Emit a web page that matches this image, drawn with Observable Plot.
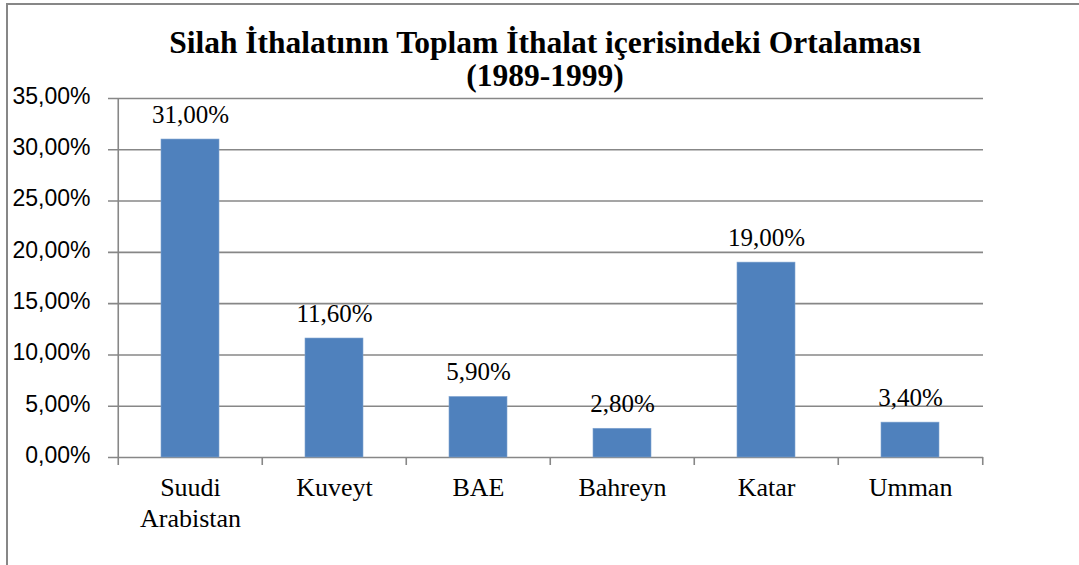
<!DOCTYPE html>
<html>
<head>
<meta charset="utf-8">
<script src="https://cdn.jsdelivr.net/npm/d3@7"></script>
<script src="https://cdn.jsdelivr.net/npm/@observablehq/plot@0.6"></script>
<style>
  html, body { margin: 0; padding: 0; background: #fff; overflow: hidden; }
  #wrap { position: relative; width: 1079px; height: 565px; }
  #border { position: absolute; left: 6px; top: 3px; width: 2000px; height: 2000px;
            border-left: 2px solid #878787; border-top: 2px solid #878787; box-sizing: border-box; }
  #chart { position: absolute; left: 0; top: 0; }
</style>
</head>
<body>
<div id="wrap"><div id="border"></div><div id="chart"></div></div>
<script>
// ---- data ----
const titleLines = ["Silah İthalatının Toplam İthalat içerisindeki Ortalaması\n(1989-1999)"];
const categories = ["Suudi Arabistan", "Kuveyt", "BAE", "Bahreyn", "Katar", "Umman"];
const xLabels = ["Suudi\nArabistan", "Kuveyt", "BAE", "Bahreyn", "Katar", "Umman"];
const values = [0.31, 0.116, 0.059, 0.028, 0.19, 0.034];
const yTicks = [0, 0.05, 0.10, 0.15, 0.20, 0.25, 0.30, 0.35];

const rows = categories.map((c, i) => ({category: c, value: values[i], label: xLabels[i]}));

const trLocale = d3.formatLocale({decimal: ",", thousands: ".", grouping: [3], currency: ["", ""], percent: "%"});
const pct = trLocale.format(".2%");

const W = 1079, H = 565;
const mL = 116, mR = 96, mT = 98, mB = 108;
const step = (W - mL - mR) / categories.length;
const gridColor = "#878787";
const serif = "'Liberation Serif', 'Times New Roman', serif";
const sans = "'Liberation Sans', Arial, sans-serif";

const chart = Plot.plot({
  width: W,
  height: H,
  marginLeft: mL,
  marginRight: mR,
  marginTop: mT,
  marginBottom: mB,
  style: {background: "transparent", color: "#000", overflow: "visible"},
  x: {domain: categories, paddingInner: 0.6, paddingOuter: 0.3, axis: null},
  y: {domain: [0, 0.35], axis: null},
  marks: [
    // horizontal gridlines with left tick stubs
    Plot.ruleY(yTicks, {stroke: gridColor, strokeWidth: 1.6, insetLeft: -8}),
    // y axis labels
    Plot.axisY(yTicks, {tickSize: 0, tickPadding: 26, tickFormat: pct, label: null, fontSize: 23, fontFamily: sans, dy: -2}),
    // vertical axis line (left edge of first category) with bottom tick
    Plot.ruleX([categories[0]], {x: d => d, dx: -step / 2, stroke: gridColor, strokeWidth: 1.6, insetBottom: -8}),
    // category boundary ticks below the baseline
    Plot.ruleX(categories.slice(1), {x: d => d, dx: -step / 2, y1: 0, y2: 0, insetBottom: -8, stroke: gridColor, strokeWidth: 1.6}),
    Plot.ruleX([categories[categories.length - 1]], {x: d => d, dx: step / 2, y1: 0, y2: 0, insetBottom: -8, stroke: gridColor, strokeWidth: 1.6}),
    // bars
    Plot.barY(rows, {x: "category", y: "value", fill: "#4F81BD", stroke: "#7FA3D0", strokeWidth: 0.6}),
    // value labels
    Plot.text(rows, {x: "category", y: "value", text: d => pct(d.value), lineAnchor: "bottom", dy: -17,
      fontFamily: serif, fontSize: 25, fill: "#000"}),
    // category labels
    Plot.text(rows, {x: "category", text: "label", frameAnchor: "bottom", lineAnchor: "top", dy: 17,
      lineHeight: 1.18, fontFamily: serif, fontSize: 26, fill: "#000"}),
    // title
    Plot.text(titleLines, {text: d => d, frameAnchor: "top", lineAnchor: "bottom", dy: -13, dx: -5,
      lineHeight: 1.03, fontFamily: serif, fontSize: 31.5, fontWeight: "bold", fill: "#000"})
  ]
});
document.getElementById("chart").appendChild(chart);
</script>
</body>
</html>
